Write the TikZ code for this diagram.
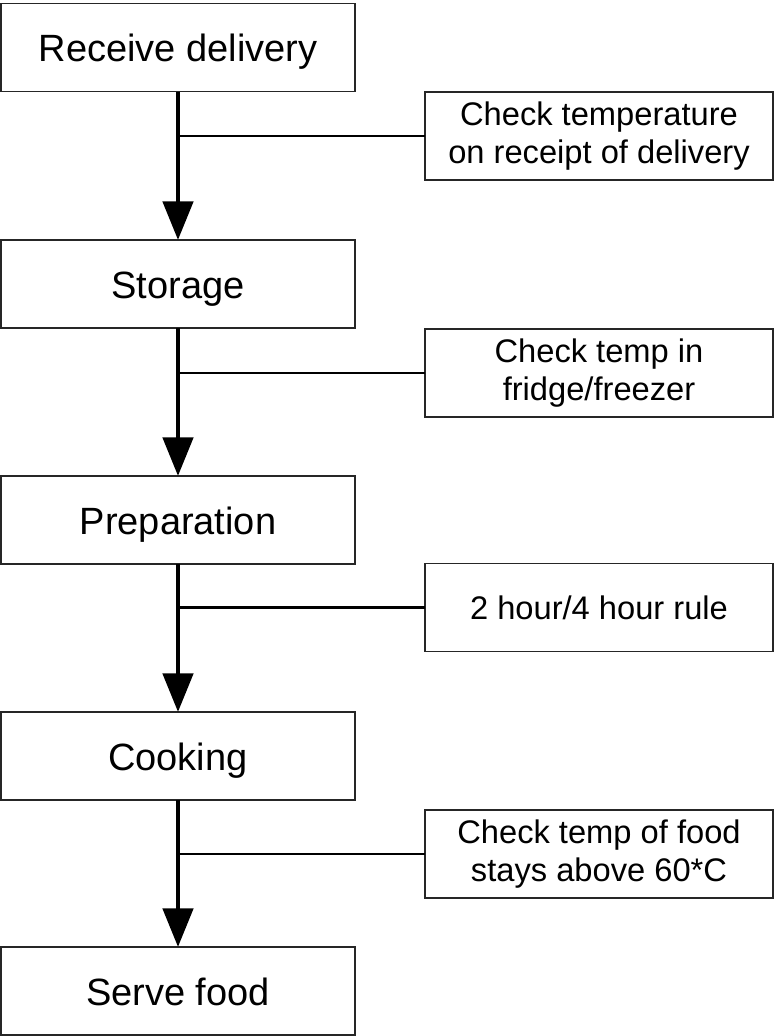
\documentclass[tikz,border=0pt]{standalone}
\usepackage{fontspec}
\setmainfont{Liberation Sans}
\usetikzlibrary{arrows.meta}
\begin{document}
\begin{tikzpicture}[x=0.75pt,y=-0.75pt,
  stepbox/.style={draw=black!85, line width=1.3pt, fill=white, inner sep=0pt, outer sep=0pt,
    minimum width=354*0.75pt, minimum height=88*0.75pt, text height=21.5pt, text depth=0pt,
    font=\fontsize{28.5pt}{34pt}\selectfont},
  notebox/.style={draw=black!85, line width=1.3pt, fill=white, inner sep=0pt, outer sep=0pt,
    minimum width=348*0.75pt, minimum height=88*0.75pt, align=center,
    font=\fontsize{24.5pt}{28.5pt}\selectfont},
  flow/.style={line width=3.6pt, -{Triangle[width=22.5pt,length=29pt]}},
  link/.style={line width=1.8pt}]
\useasboundingbox (0,0) rectangle (774,1036);
\node[stepbox] (b1) at (178,47.5) {Receive delivery};
\node[stepbox] (b2) at (178,284) {Storage};
\node[stepbox] (b3) at (178,520) {Preparation};
\node[stepbox] (b4) at (178,756) {Cooking};
\node[stepbox] (b5) at (178,991) {Serve food};
\node[notebox] (r1) at (599,136) {Check temperature\\on receipt of delivery};
\node[notebox] (r2) at (599,373) {Check temp in\\fridge/freezer};
\node[notebox, text height=17.5pt, text depth=0pt] (r3) at (599,607.5) {2 hour/4 hour rule};
\node[notebox] (r4) at (599,854) {Check temp of food\\stays above 60*C};
\draw[link] (r1.west) -- (r1.west -| b1.south);
\draw[link] (r2.west) -- (r2.west -| b2.south);
\draw[link] (r3.west) -- (r3.west -| b3.south);
\draw[link] (r4.west) -- (r4.west -| b4.south);
\draw[flow] (b1.south) -- (b2.north);
\draw[flow] (b2.south) -- (b3.north);
\draw[flow] (b3.south) -- (b4.north);
\draw[flow] (b4.south) -- (b5.north);
\end{tikzpicture}
\end{document}
